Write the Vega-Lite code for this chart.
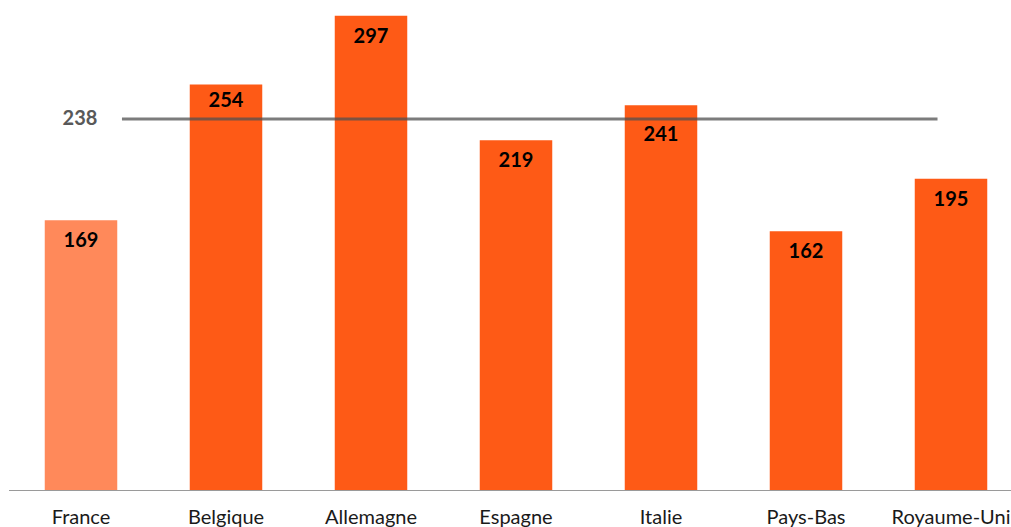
{
  "$schema": "https://vega.github.io/schema/vega-lite/v6.json",
  "autosize": {"type": "none"},
  "padding": {"left": 8.5, "top": 11, "right": 0, "bottom": 37},
  "width": 1015,
  "height": 479,
  "background": "white",
  "config": {"view": {"stroke": null}, "font": "Lato"},
  "datasets": {
    "bars": [
      {"pays": "France", "valeur": 169, "groupe": "France"},
      {"pays": "Belgique", "valeur": 254, "groupe": "Autres"},
      {"pays": "Allemagne", "valeur": 297, "groupe": "Autres"},
      {"pays": "Espagne", "valeur": 219, "groupe": "Autres"},
      {"pays": "Italie", "valeur": 241, "groupe": "Autres"},
      {"pays": "Pays-Bas", "valeur": 162, "groupe": "Autres"},
      {"pays": "Royaume-Uni", "valeur": 195, "groupe": "Autres"}
    ],
    "moyenne": [
      {"debut": "France", "fin": "Royaume-Uni", "valeur": 232.4, "label": "238"}
    ]
  },
  "encoding": {
    "x": {
      "field": "pays", "type": "nominal", "sort": null,
      "scale": {"paddingInner": 0.5, "paddingOuter": 0.25,
        "domain": ["France", "Belgique", "Allemagne", "Espagne", "Italie", "Pays-Bas", "Royaume-Uni"]},
      "axis": {
        "title": null, "labelAngle": 0, "ticks": false, "tickSize": 0,
        "domainColor": "#9a9a9a", "domainWidth": 1,
        "labelFontSize": 20, "labelColor": "#1a1a1a", "labelPadding": 17,
        "labelBaseline": "top", "labelOverlap": false, "labelBound": false
      }
    }
  },
  "layer": [
    {
      "data": {"name": "bars"},
      "mark": {"type": "bar"},
      "encoding": {
        "y": {"field": "valeur", "type": "quantitative", "scale": {"domain": [0, 300], "nice": false}, "axis": null},
        "color": {"field": "groupe", "type": "nominal", "scale": {"domain": ["France", "Autres"], "range": ["#FF895A", "#FE5A16"]}, "legend": null}
      }
    },
    {
      "data": {"name": "bars"},
      "transform": [{"filter": "datum.pays !== 'Belgique' && datum.pays !== 'Italie'"}],
      "mark": {"type": "text", "fontWeight": "bold", "fontSize": 20, "color": "#000000", "baseline": "middle", "dy": 21},
      "encoding": {
        "y": {"field": "valeur", "type": "quantitative"},
        "text": {"field": "valeur", "type": "quantitative"}
      }
    },
    {
      "data": {"name": "bars"},
      "transform": [{"filter": "datum.pays === 'Belgique'"}],
      "mark": {"type": "text", "fontWeight": "bold", "fontSize": 20, "color": "#000000", "baseline": "middle", "dy": 17},
      "encoding": {
        "y": {"field": "valeur", "type": "quantitative"},
        "text": {"field": "valeur", "type": "quantitative"}
      }
    },
    {
      "data": {"name": "bars"},
      "transform": [{"filter": "datum.pays === 'Italie'"}],
      "mark": {"type": "text", "fontWeight": "bold", "fontSize": 20, "color": "#000000", "baseline": "middle", "dy": 30},
      "encoding": {
        "y": {"field": "valeur", "type": "quantitative"},
        "text": {"field": "valeur", "type": "quantitative"}
      }
    },
    {
      "data": {"name": "moyenne"},
      "mark": {"type": "rule", "color": "#505050", "strokeWidth": 3, "opacity": 0.75},
      "encoding": {
        "x": {"field": "debut", "type": "nominal", "bandPosition": 1.065},
        "x2": {"field": "fin", "bandPosition": 0.314},
        "y": {"field": "valeur", "type": "quantitative"}
      }
    },
    {
      "data": {"name": "moyenne"},
      "mark": {"type": "text", "fontWeight": "bold", "fontSize": 20, "color": "#595959", "baseline": "middle", "dx": -1},
      "encoding": {
        "x": {"field": "debut", "type": "nominal"},
        "y": {"field": "valeur", "type": "quantitative"},
        "text": {"field": "label"}
      }
    }
  ]
}
